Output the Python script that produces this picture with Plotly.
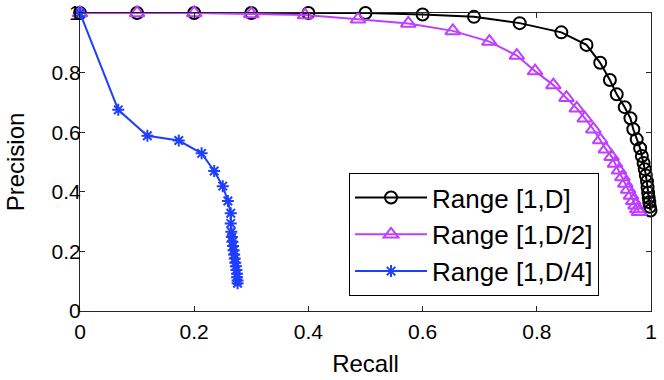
import plotly.graph_objects as go

# Range [1,D]
recall_d = [0, 0.1, 0.2, 0.3, 0.4, 0.5, 0.6, 0.69, 0.77, 0.843, 0.887, 0.911, 0.928, 0.94,
            0.954, 0.964, 0.969, 0.975, 0.981, 0.984, 0.987, 0.989, 0.991, 0.993, 0.994,
            0.995, 0.996, 0.997, 0.998, 0.999]
precision_d = [1, 1, 1, 1, 1, 1, 0.995, 0.987, 0.966, 0.935, 0.893, 0.833, 0.775, 0.727,
               0.684, 0.647, 0.61, 0.576, 0.546, 0.52, 0.497, 0.476, 0.455, 0.435, 0.415,
               0.397, 0.38, 0.365, 0.35, 0.337]

# Range [1,D/2]
recall_d2 = [0, 0.1, 0.2, 0.3, 0.394, 0.487, 0.575, 0.653, 0.717, 0.765, 0.797, 0.829,
             0.852, 0.87, 0.884, 0.899, 0.911, 0.921, 0.931, 0.937, 0.944, 0.950, 0.955,
             0.960, 0.965, 0.969, 0.973, 0.976, 0.979]
precision_d2 = [1, 1, 1, 0.997, 0.993, 0.979, 0.965, 0.94, 0.904, 0.857, 0.805, 0.758,
                0.716, 0.68, 0.647, 0.61, 0.574, 0.543, 0.518, 0.495, 0.472, 0.450, 0.428,
                0.408, 0.388, 0.370, 0.355, 0.342, 0.333]

# Range [1,D/4]
recall_d4 = [0, 0.067, 0.118, 0.173, 0.213, 0.235, 0.25, 0.259, 0.264, 0.264, 0.265,
             0.266, 0.267, 0.268, 0.269, 0.270, 0.271, 0.272, 0.273, 0.274, 0.275, 0.275,
             0.276, 0.276]
precision_d4 = [1, 0.675, 0.588, 0.572, 0.529, 0.47, 0.419, 0.369, 0.328, 0.294, 0.266,
                0.248, 0.232, 0.218, 0.204, 0.19, 0.176, 0.162, 0.15, 0.138, 0.125, 0.113,
                0.102, 0.093]

x_ticks = [0, 0.2, 0.4, 0.6, 0.8, 1]
y_ticks = [0, 0.2, 0.4, 0.6, 0.8, 1]
x_tick_labels = ["0", "0.2", "0.4", "0.6", "0.8", "1"]
y_tick_labels = ["0", "0.2", "0.4", "0.6", "0.8", "1"]

FONT = "Liberation Sans, Arial, Helvetica, sans-serif"

fig = go.Figure()
fig.add_trace(go.Scatter(
    x=recall_d, y=precision_d, name="Range [1,D]", mode="lines+markers",
    line=dict(color="black", width=2),
    marker=dict(symbol="circle-open", size=12, color="black", line=dict(width=2, color="black")),
    cliponaxis=False, legendgroup="a"))
fig.add_trace(go.Scatter(
    x=recall_d2, y=precision_d2, name="Range [1,D/2]", mode="lines+markers",
    line=dict(color="#bf3fff", width=2),
    marker=dict(symbol="triangle-up-open", size=13, color="#bf3fff", line=dict(width=2, color="#bf3fff")),
    cliponaxis=False, legendgroup="b"))
fig.add_trace(go.Scatter(
    x=recall_d4, y=precision_d4, name="Range [1,D/4]", mode="lines+markers",
    line=dict(color="#1f3fff", width=2),
    marker=dict(symbol="asterisk-open", size=10, color="#1f3fff", line=dict(width=2, color="#1f3fff")),
    cliponaxis=False, legendgroup="c"))

axis_common = dict(
    range=[0, 1], showgrid=False, zeroline=False, showline=True, linecolor="#262626",
    linewidth=1, mirror="ticks", ticks="inside", ticklen=5, tickcolor="#262626",
    tickfont=dict(size=21, color="black", family=FONT), automargin=False,
    ticklabeloverflow="allow",
)

fig.update_layout(
    width=664, height=380,
    margin=dict(l=80, r=13, t=13, b=69, autoexpand=False),
    plot_bgcolor="white", paper_bgcolor="white",
    font=dict(family=FONT, color="black"),
    xaxis=dict(**axis_common, tickvals=x_ticks, ticktext=x_tick_labels, ticklabelstandoff=2,
               title=dict(text="Recall", font=dict(size=24), standoff=12)),
    yaxis=dict(**axis_common, tickvals=y_ticks, ticktext=y_tick_labels, ticklabelstandoff=-6,
               title=dict(text="Precision", font=dict(size=24), standoff=20)),
    legend=dict(x=0.909, y=0.05, xanchor="right", yanchor="bottom",
                bordercolor="black", borderwidth=1, bgcolor="white", itemwidth=72,
                font=dict(size=26, family=FONT), traceorder="grouped", tracegroupgap=0),
    showlegend=True,
)

# remove the default 8px page margin so the 664x380 figure fills the window exactly
fig.write_html("out.html", config={"displayModeBar": False},
               post_script="document.body.style.margin='0px';")
